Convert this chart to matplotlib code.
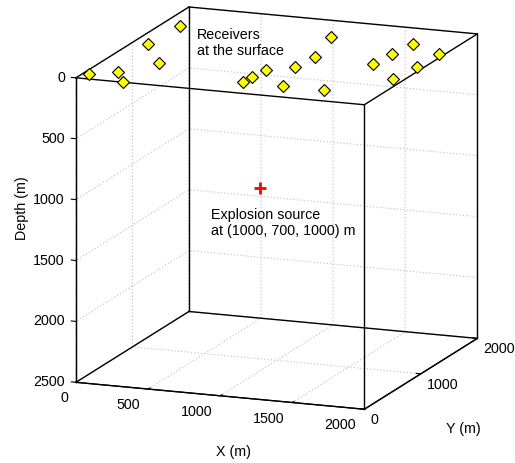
import numpy as np
import matplotlib
matplotlib.use("Agg")
import matplotlib.pyplot as plt
from matplotlib.transforms import ScaledTranslation

plt.rcParams['font.family'] = ['Liberation Sans', 'DejaVu Sans']
plt.rcParams['grid.color'] = '#bdbdbd'
plt.rcParams['grid.linestyle'] = (0, (1, 2))
plt.rcParams['grid.linewidth'] = 0.8

# receivers at the surface (x, y in m, depth 0)
rec_x = [43, 191, 323, 107, 355, 133, 1046, 1053, 1073, 1330,
         1221, 1240, 1143, 1611, 1663, 1681, 1926, 1708, 1950, 1969]
rec_y = [124, 249, 11, 998, 565, 1510, 293, 421, 631, 268,
         768, 1065, 1598, 282, 1019, 1304, 704, 1604, 1053, 1408]
rec_z = [0] * len(rec_x)

# explosion source
src = (1000, 700, 1000)

x_lim = (0, 2000)
y_lim = (0, 2000)
z_lim = (0, 2500)
x_ticks = [0, 500, 1000, 1500, 2000]
y_ticks = [0, 1000, 2000]
z_ticks = [0, 500, 1000, 1500, 2000, 2500]

fs = 10.3

fig = plt.figure(figsize=(5.15, 4.63), dpi=100)
ax = fig.add_axes([0.025, 0.037, 1.0, 1.0], projection='3d', proj_type='ortho')
ax.view_init(elev=14, azim=-68.9)
ax.set_box_aspect((0.985, 1.0, 1), zoom=1.134)

ax.set_xlim(*x_lim)
ax.set_ylim(*y_lim)
ax.set_zlim(z_lim[1], z_lim[0])
ax.set_xticks(x_ticks)
ax.set_yticks(y_ticks)
ax.set_zticks(z_ticks)
ax.zaxis.set_ticks_position('lower')
ax.zaxis._get_tickdir = lambda position: 0   # z ticks point along -x

for axis in (ax.xaxis, ax.yaxis, ax.zaxis):
    axis.set_pane_color((1, 1, 1, 0))
    axis._axinfo['tick']['inward_factor'] = 0.0
    axis._axinfo['tick']['outward_factor'] = 0.2
    axis._axinfo['tick']['linewidth'] = {True: 0.8, False: 0.5}
    axis._axinfo['axisline']['linewidth'] = 1.0
    axis.line.set_color('black')
    axis.offsetText.set_visible(False)
    axis.label.set_visible(False)
    for tk in axis.get_major_ticks():
        tk.label1.set_visible(False)
        tk.label2.set_visible(False)
ax.tick_params(colors='black')

# box edges
for yy in y_lim:
    for zz in z_lim:
        ax.plot(x_lim, [yy, yy], [zz, zz], color='black', lw=1.0)
for xx in x_lim:
    for zz in z_lim:
        ax.plot([xx, xx], y_lim, [zz, zz], color='black', lw=1.0)
for xx in x_lim:
    for yy in y_lim:
        ax.plot([xx, xx], [yy, yy], z_lim, color='black', lw=1.0)


def shifted(dx, dy):
    # offset in pixels (screen, y down) from the projected anchor point
    return ax.transData + ScaledTranslation(dx / 100, -dy / 100, fig.dpi_scale_trans)


# tick labels, matlab style
for t in x_ticks:
    ax.text(t, y_lim[0], z_lim[1], str(t), fontsize=fs, ha='right', va='top',
            transform=shifted(-8, 9))
for t in y_ticks:
    ax.text(x_lim[1], t, z_lim[1], str(t), fontsize=fs, ha='left', va='center',
            transform=shifted(6, 11))
for t in z_ticks:
    ax.text(x_lim[0], y_lim[0], t, str(t), fontsize=fs, ha='right', va='center',
            transform=shifted(-11, 0))

ax.plot(rec_x, rec_y, rec_z, linestyle='none', marker='D', ms=5.8,
        mfc='#ffff00', mec='black', mew=0.8)
ax.plot([src[0]], [src[1]], [src[2]], linestyle='none', marker='+', ms=8,
        color='red', mew=2)

ax.text(390, 1140, 0, 'Receivers\nat the surface', fontsize=fs,
        ha='left', va='center')
ax.text(660, 700, 1325, 'Explosion source\nat (1000, 700, 1000) m', fontsize=fs,
        ha='left', va='center')

fig.text(233 / 515, 1 - 452 / 463, 'X (m)', fontsize=fs, ha='center', va='center')
fig.text(463 / 515, 1 - 429 / 463, 'Y (m)', fontsize=fs, ha='center', va='center')
fig.text(22 / 515, 1 - 208 / 463, 'Depth (m)', fontsize=fs, ha='center',
         va='center', rotation=90)

fig.savefig('out.png', dpi=100)
